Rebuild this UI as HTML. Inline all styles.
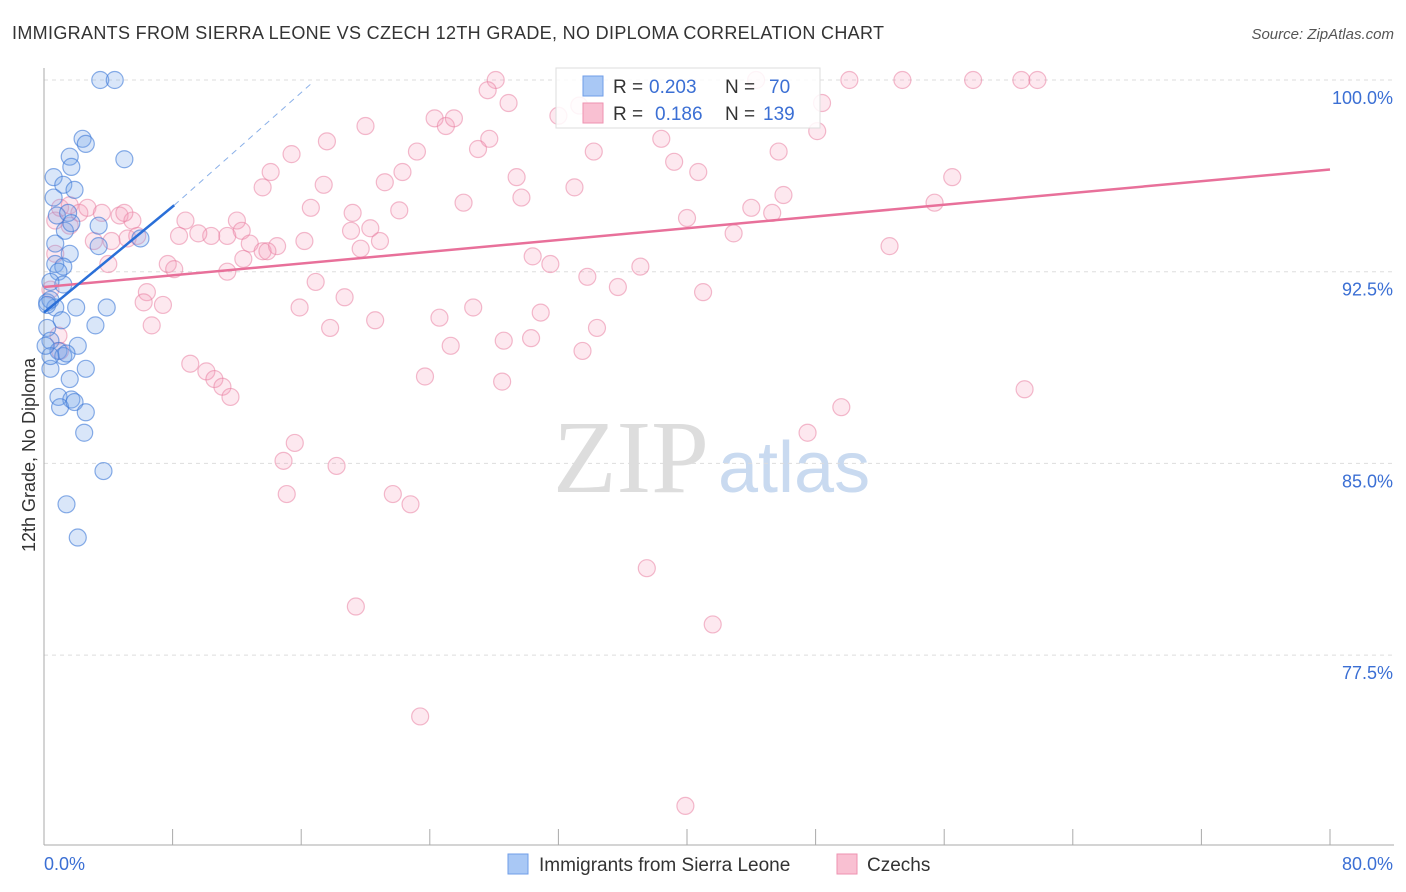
<!DOCTYPE html>
<html><head><meta charset="utf-8"><style>
body{margin:0;background:#fff;font-family:"Liberation Sans",sans-serif}
svg{display:block}
</style></head><body>
<svg id="c" width="1406" height="892" xmlns="http://www.w3.org/2000/svg">
<text x="12" y="39" font-size="18" fill="#333" textLength="872" lengthAdjust="spacing">IMMIGRANTS FROM SIERRA LEONE VS CZECH 12TH GRADE, NO DIPLOMA CORRELATION CHART</text>
<text x="1394" y="39" font-size="15" fill="#555" font-style="italic" text-anchor="end">Source: ZipAtlas.com</text>
<g>
<text x="553" y="492" font-size="104" font-family="Liberation Serif,serif" fill="#ddd">ZIP</text>
<text x="718" y="492" font-size="72" fill="#c9daf0">atlas</text>
</g>
<g id="grid"></g><g id="axes"></g><g id="pts"></g><g id="trend"></g>
<text transform="translate(35,455) rotate(-90)" font-size="18" fill="#333" text-anchor="middle">12th Grade, No Diploma</text>
<g>
<rect x="556" y="68" width="264" height="60" fill="#fff" fill-opacity="0.85" stroke="#ddd"/>
<rect x="583" y="76" width="20" height="20" fill="#a9c8f5" stroke="#6f9ee8"/>
<rect x="583" y="103" width="20" height="20" fill="#f9c0d2" stroke="#ee92b0"/>
<g font-size="19">
<text x="613" y="93" fill="#333">R =</text><text x="649" y="93" fill="#3b6fd4">0.203</text><text x="725" y="93" fill="#333">N =</text><text x="769" y="93" fill="#3b6fd4">70</text>
<text x="613" y="120" fill="#333">R =</text><text x="655" y="120" fill="#3b6fd4">0.186</text><text x="725" y="120" fill="#333">N =</text><text x="763" y="120" fill="#3b6fd4">139</text>
</g>
</g>
<g>
<rect x="508" y="854" width="20" height="20" fill="#a9c8f5" stroke="#6f9ee8"/>
<text x="539" y="871" font-size="19" fill="#333">Immigrants from Sierra Leone</text>
<rect x="837" y="854" width="20" height="20" fill="#f9c0d2" stroke="#ee92b0"/>
<text x="867" y="871" font-size="19" fill="#333">Czechs</text>
</g>
</svg>
<script>
const yTicks=[100,92.5,85,77.5];
const yTickLabels=["100.0%","92.5%","85.0%","77.5%"];
const xTickLabels=["0.0%","80.0%"];
const blueX=[3.5,4.4,2.4,2.6,5.0,1.6,1.7,0.6,1.2,1.9,0.6,0.8,1.5,1.3,1.7,3.4,0.7,3.4,6.0,1.6,0.7,1.2,0.9,1.2,0.4,0.2,0.7,2.0,3.9,3.2,1.1,0.2,0.4,2.1,0.9,1.2,1.4,0.4,2.6,1.6,0.9,1.7,1.0,1.9,2.6,2.5,3.7,1.4,2.1,0.4,0.2,0.4,0.1];
const blueY=[100,100,97.7,97.5,96.9,97.0,96.6,96.2,95.9,95.7,95.4,94.7,94.8,94.1,94.4,94.3,93.6,93.5,93.8,93.2,92.8,92.7,92.5,92.0,92.1,91.3,91.1,91.1,91.1,90.4,90.6,90.3,89.8,89.6,89.4,89.2,89.3,88.7,88.7,88.3,87.6,87.5,87.2,87.4,87.0,86.2,84.7,83.4,82.1,91.4,91.2,89.2,89.6];
const pinkX=[28.1,44.3,50.1,53.4,57.8,60.8,61.8,27.6,28.9,33.3,48.4,32.0,24.3,25.0,25.5,20.0,27.7,17.6,23.2,27.0,34.2,38.4,45.7,48.1,15.4,14.1,39.2,40.7,29.4,22.3,21.2,13.6,17.4,33.0,56.5,26.1,29.7,16.6,22.1,46.0,44.0,45.3,55.4,40.0,8.8,12.0,19.2,20.3,11.4,12.3,19.1,20.9,10.4,9.6,8.4,16.2,12.8,13.6,14.5,19.7,12.4,13.9,42.9,52.6,30.4,31.5,37.1,33.8,7.7,8.1,11.4,16.9,35.7,41.0,6.4,6.2,7.4,15.9,18.7,26.7,30.9,20.6,24.6,6.7,17.8,34.4,28.6,30.3,25.3,33.5,9.1,10.1,10.6,11.1,11.6,23.7,28.5,61.0,49.6,47.5,15.6,14.9,18.2,15.1,21.7,22.8,37.5,19.4,41.6,23.4,39.9,0.7,1.0,1.6,2.2,2.7,3.6,4.7,5.5,5.0,3.1,4.2,5.2,5.8,4.0,0.7,0.9,1.0,0.4,1.6];
const pinkY=[100,100,100,100,100,100,100,99.6,99.1,99.0,99.1,98.6,98.5,98.2,98.5,98.2,97.7,97.6,97.2,97.3,97.2,97.7,97.2,98.0,97.1,96.4,96.8,96.4,96.2,96.4,96.0,95.8,95.9,95.8,96.2,95.2,95.4,95.0,94.9,95.5,95.0,94.8,95.2,94.6,94.5,94.5,94.8,94.2,93.9,94.1,94.1,93.7,93.9,94.0,93.9,93.7,93.6,93.3,93.5,93.4,93.0,93.3,94.0,93.5,93.1,92.8,92.7,92.3,92.8,92.6,92.5,92.1,91.9,91.7,91.7,91.3,91.2,91.1,91.5,91.1,90.9,90.6,90.7,90.4,90.3,90.3,89.8,89.9,89.6,89.4,88.9,88.6,88.3,88.0,87.6,88.4,88.2,87.9,87.2,86.2,85.8,85.1,84.9,83.8,83.8,83.4,80.9,79.4,78.7,75.1,71.6,94.5,95.0,95.1,94.8,95.0,94.8,94.7,94.5,94.8,93.7,93.7,93.8,93.9,92.8,93.2,90.0,89.4,91.8,94.3];
const blueTrendX=[0,8.1], blueTrendY=[90.9,95.1], blueDashX=[8.1,16.7], blueDashY=[95.1,99.9];
const pinkTrendX=[0,80], pinkTrendY=[91.9,96.5];
const X0=44,X1=1330,Y100=80,PXPER=191.7/7.5;
const sx=v=>X0+(v/80)*(X1-X0);
const sy=v=>Y100+(100-v)*PXPER;
const NS="http://www.w3.org/2000/svg";
function mk(p,t,a){const e=document.createElementNS(NS,t);for(const k in a)e.setAttribute(k,a[k]);p.appendChild(e);return e;}
const grid=document.getElementById('grid'),axes=document.getElementById('axes'),pts=document.getElementById('pts'),tr=document.getElementById('trend');
yTicks.forEach((t,i)=>{const l=mk(grid,'line',{x1:X0,x2:1394,y1:sy(t),y2:sy(t),stroke:'#ddd','stroke-dasharray':'4,4'});


const tx=mk(grid,'text',{x:1393,y:sy(t)+24,'font-size':18,fill:'#3b6fd4','text-anchor':'end'});tx.textContent=yTickLabels[i];

});
const ya=mk(axes,'line',{x1:X0,x2:X0,y1:68,y2:845,stroke:'#aaa'});


const xa=mk(axes,'line',{x1:X0,x2:1394,y1:845,y2:845,stroke:'#aaa'});


for(let i=0;i<=10;i++){const t=mk(axes,'line',{x1:sx(i*8),x2:sx(i*8),y1:829,y2:845,stroke:'#aaa'});

}
[[0,'start',44],[80,'end',1393]].forEach((d,i)=>{const t=mk(axes,'text',{x:d[2],y:870,'font-size':18,fill:'#3b6fd4','text-anchor':d[1]});t.textContent=xTickLabels[i];

});
pinkX.forEach((x,i)=>{const c=mk(pts,'circle',{cx:sx(x),cy:sy(pinkY[i]),r:8.5,fill:'rgba(244,150,180,0.22)',stroke:'rgba(232,120,155,0.5)','stroke-width':1.2});

});
blueX.forEach((x,i)=>{const c=mk(pts,'circle',{cx:sx(x),cy:sy(blueY[i]),r:8.5,fill:'rgba(120,165,235,0.28)',stroke:'rgba(60,120,215,0.6)','stroke-width':1.2});

});
const pl=mk(tr,'line',{x1:sx(pinkTrendX[0]),y1:sy(pinkTrendY[0]),x2:sx(pinkTrendX[1]),y2:sy(pinkTrendY[1]),stroke:'#e8709a','stroke-width':2.5});


const bl=mk(tr,'line',{x1:sx(blueTrendX[0]),y1:sy(blueTrendY[0]),x2:sx(blueTrendX[1]),y2:sy(blueTrendY[1]),stroke:'#2a6fd8','stroke-width':2.5});


const bd=mk(tr,'line',{x1:sx(blueDashX[0]),y1:sy(blueDashY[0]),x2:sx(blueDashX[1]),y2:sy(blueDashY[1]),stroke:'#8ab0e8','stroke-width':1,'stroke-dasharray':'6,5'});


</script>
</body></html>
